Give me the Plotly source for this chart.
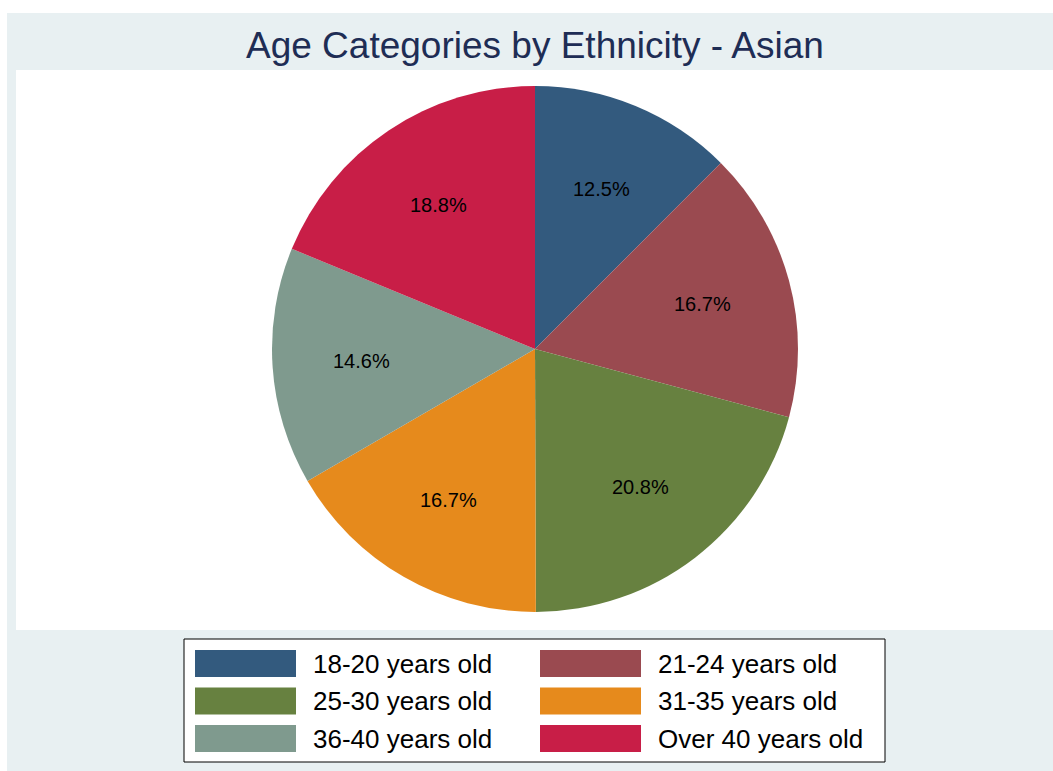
import math
import plotly.graph_objects as go

# ---- data ----
categories = ["18-20 years old", "21-24 years old", "25-30 years old",
              "31-35 years old", "36-40 years old", "Over 40 years old"]
percentages = [12.5, 16.7, 20.8, 16.7, 14.6, 18.8]
colors = ["#335A7E", "#9A4A50", "#678140", "#E68A1C", "#7F9A8E", "#C81E47"]
title_text = "Age Categories by Ethnicity - Asian"

# ---- page geometry (pixels) ----
W, H = 1053, 771
def px_x(x):
    return x / W
def px_y(y):
    return 1 - y / H

CX, CY, R = 535, 349, 263
LABEL_FRAC = 0.66
FONT = "Liberation Sans, Arial, Helvetica, sans-serif"

fig = go.Figure()
fig.add_trace(go.Pie(
    labels=categories,
    values=percentages,
    marker=dict(colors=colors, line=dict(width=0)),
    sort=False,
    direction="clockwise",
    rotation=0,
    textinfo="none",
    hoverinfo="label+percent",
    showlegend=False,
    domain=dict(x=[px_x(CX - R), px_x(CX + R)], y=[px_y(CY + R), px_y(CY - R)]),
))

shapes = [
    # outer light background
    dict(type="rect", xref="paper", yref="paper", x0=px_x(7), x1=1, y0=0, y1=px_y(13),
         fillcolor="#E8F0F2", line=dict(width=0), layer="below"),
    # white plot region
    dict(type="rect", xref="paper", yref="paper", x0=px_x(16), x1=1, y0=px_y(630), y1=px_y(70),
         fillcolor="white", line=dict(width=0), layer="below"),
    # legend box
    dict(type="rect", xref="paper", yref="paper", x0=px_x(184), x1=px_x(885), y0=px_y(762), y1=px_y(639),
         fillcolor="white", line=dict(color="black", width=1), layer="below"),
]
annotations = []

# percentage labels inside slices
total = sum(percentages)
cum = 0.0
for v in percentages:
    theta = 2 * math.pi * (cum + v / 2) / total
    lx = CX + LABEL_FRAC * R * math.sin(theta)
    ly = CY - LABEL_FRAC * R * math.cos(theta)
    annotations.append(dict(
        x=px_x(lx), y=px_y(ly), xref="paper", yref="paper", showarrow=False,
        text=f"{v:.1f}%", font=dict(family=FONT, size=20, color="black"),
        xanchor="center", yanchor="middle"))
    cum += v

# custom legend
for i, (cat, col) in enumerate(zip(categories, colors)):
    c, r = i % 2, i // 2
    x0 = 195 + c * 345
    yc = 663.5 + r * 37.5
    shapes.append(dict(type="rect", xref="paper", yref="paper",
                       x0=px_x(x0), x1=px_x(x0 + 101), y0=px_y(yc + 13.5), y1=px_y(yc - 13.5),
                       fillcolor=col, line=dict(width=0)))
    annotations.append(dict(
        x=px_x(x0 + 116), y=px_y(yc), xref="paper", yref="paper", showarrow=False,
        text=cat, font=dict(family=FONT, size=26, color="black"),
        xanchor="left", yanchor="middle"))

# title
annotations.append(dict(
    x=px_x(535), y=px_y(45), xref="paper", yref="paper", showarrow=False,
    text=title_text, font=dict(family=FONT, size=37, color="#1E2D55"),
    xanchor="center", yanchor="middle"))

fig.update_layout(
    width=W, height=H,
    margin=dict(l=0, r=0, t=0, b=0),
    paper_bgcolor="white",
    plot_bgcolor="white",
    shapes=shapes,
    annotations=annotations,
)

fig.write_html("out.html")
